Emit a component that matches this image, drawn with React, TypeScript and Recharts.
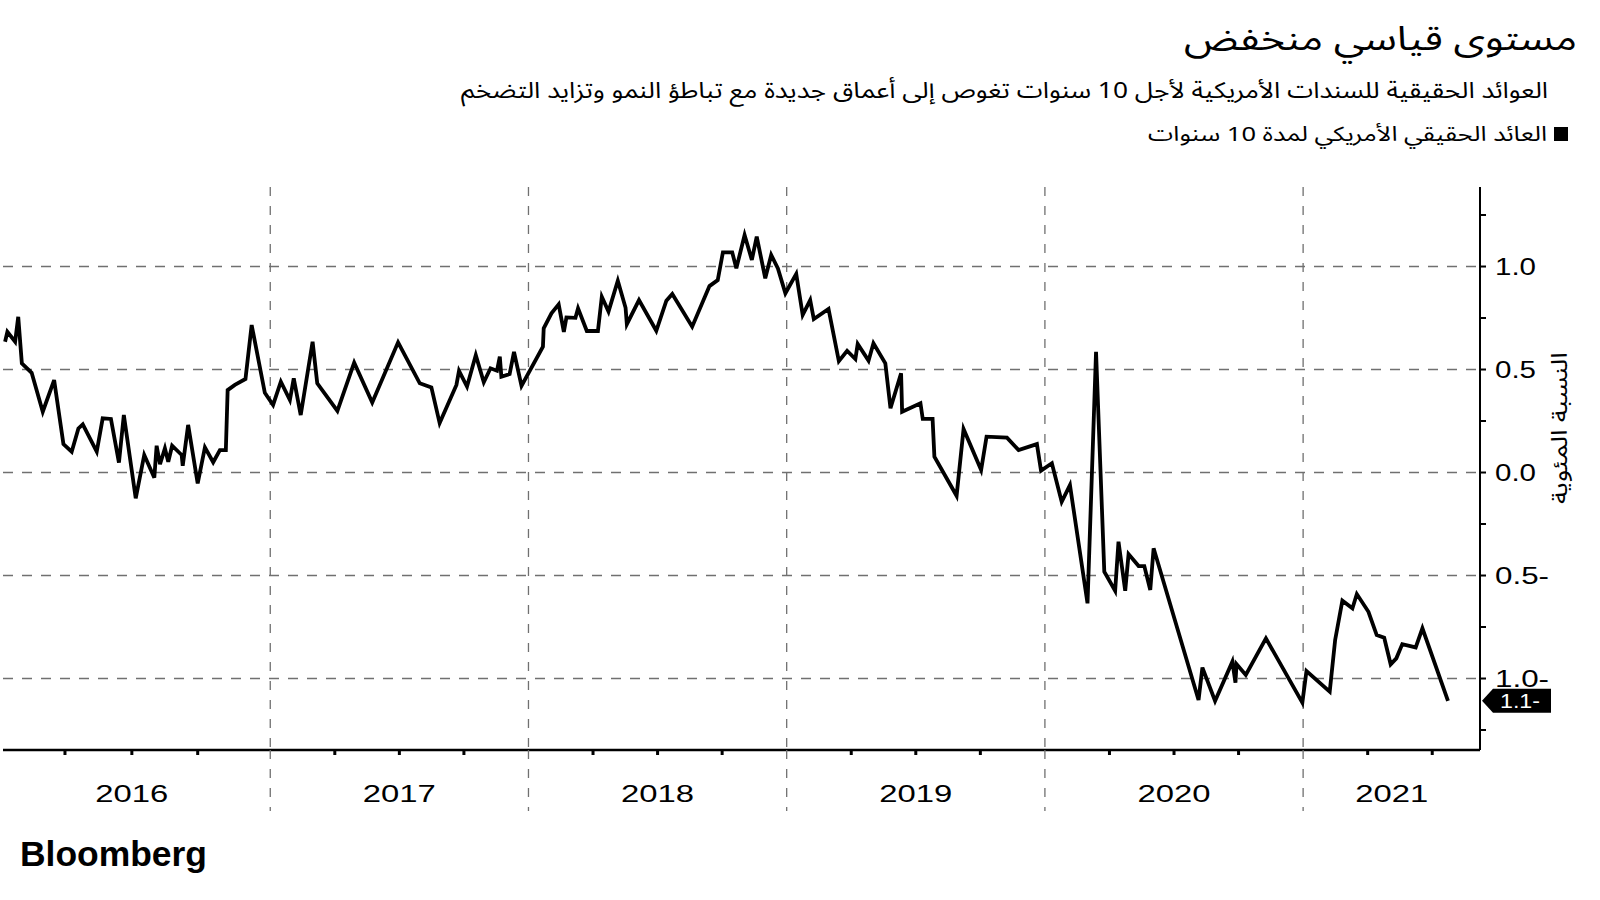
import React from 'react';
import { LineChart, Line, XAxis, YAxis, CartesianGrid, ReferenceDot } from 'recharts';

// ---- data (decimal years, percent) ----
const dates = [
  2015.973, 2015.982, 2016.012, 2016.024, 2016.038, 2016.076, 2016.119, 2016.163, 2016.199, 2016.231,
  2016.257, 2016.274, 2016.328, 2016.351, 2016.383, 2016.414, 2016.433, 2016.479, 2016.512, 2016.551,
  2016.560, 2016.573, 2016.592, 2016.605, 2016.620, 2016.657, 2016.661, 2016.682, 2016.719, 2016.747,
  2016.779, 2016.805, 2016.828, 2016.835, 2016.863, 2016.904, 2016.928, 2016.979, 2017.011, 2017.041,
  2017.076, 2017.091, 2017.118, 2017.164, 2017.182, 2017.260, 2017.325, 2017.395, 2017.495, 2017.579,
  2017.624, 2017.656, 2017.721, 2017.731, 2017.762, 2017.796, 2017.827, 2017.853, 2017.878, 2017.889,
  2017.895, 2017.927, 2017.944, 2017.973, 2018.056, 2018.059, 2018.089, 2018.117, 2018.137, 2018.147,
  2018.182, 2018.192, 2018.226, 2018.269, 2018.284, 2018.310, 2018.346, 2018.376, 2018.381, 2018.428,
  2018.495, 2018.534, 2018.557, 2018.634, 2018.701, 2018.733, 2018.753, 2018.789, 2018.805, 2018.837,
  2018.865, 2018.884, 2018.917, 2018.940, 2018.966, 2018.995, 2019.037, 2019.062, 2019.091, 2019.105,
  2019.162, 2019.202, 2019.234, 2019.266, 2019.275, 2019.317, 2019.336, 2019.382, 2019.402, 2019.443,
  2019.447, 2019.518, 2019.527, 2019.565, 2019.572, 2019.658, 2019.685, 2019.753, 2019.774, 2019.853,
  2019.898, 2019.969, 2019.985, 2020.027, 2020.065, 2020.097, 2020.165, 2020.198, 2020.230, 2020.272,
  2020.285, 2020.311, 2020.324, 2020.363, 2020.385, 2020.408, 2020.421, 2020.595, 2020.610, 2020.659,
  2020.726, 2020.738, 2020.742, 2020.778, 2020.856, 2020.997, 2021.013, 2021.103, 2021.124, 2021.152,
  2021.191, 2021.208, 2021.253, 2021.285, 2021.314, 2021.339, 2021.361, 2021.384, 2021.436, 2021.462,
  2021.561,
];

const realYield = [
  0.635, 0.683, 0.635, 0.756, 0.530, 0.484, 0.295, 0.449, 0.138, 0.101,
  0.214, 0.234, 0.101, 0.263, 0.260, 0.048, 0.279, -0.125, 0.085, -0.025,
  0.130, 0.040, 0.117, 0.052, 0.130, 0.085, 0.033, 0.231, -0.053, 0.122,
  0.050, 0.109, 0.109, 0.400, 0.425, 0.454, 0.716, 0.387, 0.328, 0.441,
  0.352, 0.457, 0.279, 0.635, 0.433, 0.299, 0.533, 0.340, 0.632, 0.433,
  0.413, 0.240, 0.425, 0.493, 0.417, 0.570, 0.438, 0.506, 0.494, 0.562,
  0.465, 0.478, 0.586, 0.421, 0.611, 0.700, 0.773, 0.816, 0.683, 0.753,
  0.751, 0.797, 0.687, 0.687, 0.853, 0.781, 0.931, 0.800, 0.720, 0.837,
  0.688, 0.834, 0.867, 0.708, 0.905, 0.934, 1.069, 1.069, 0.991, 1.153,
  1.032, 1.145, 0.943, 1.056, 0.991, 0.870, 0.964, 0.765, 0.837, 0.745,
  0.794, 0.541, 0.591, 0.551, 0.624, 0.543, 0.627, 0.530, 0.312, 0.482,
  0.295, 0.336, 0.260, 0.260, 0.077, -0.113, 0.211, 0.012, 0.174, 0.169,
  0.109, 0.138, 0.009, 0.045, -0.142, -0.061, -0.635, 0.586, -0.481, -0.574,
  -0.336, -0.574, -0.396, -0.454, -0.454, -0.570, -0.368, -1.104, -0.947, -1.109,
  -0.918, -1.020, -0.930, -0.983, -0.805, -1.117, -0.964, -1.064, -0.813, -0.622,
  -0.659, -0.590, -0.676, -0.789, -0.802, -0.931, -0.902, -0.833, -0.849, -0.756,
  -1.108,
];

// ---- axis ticks / labels ----
const yearLines = [2017, 2018, 2019, 2020, 2021];
const quarterTicks = [
  2016.205, 2016.464, 2016.719,
  2017.25, 2017.5, 2017.75,
  2018.25, 2018.5, 2018.75,
  2019.25, 2019.5, 2019.75,
  2020.25, 2020.5, 2020.75,
  2021.25, 2021.5,
];
const yearLabelPositions = [2016.464, 2017.5, 2018.5, 2019.5, 2020.5, 2021.343];
const yearLabels = ['2016', '2017', '2018', '2019', '2020', '2021'];

const yTicks = [-1.25, -1, -0.75, -0.5, -0.25, 0, 0.25, 0.5, 0.75, 1, 1.25];
const yLabelValues = [-1, -0.5, 0, 0.5, 1];
const yLabelTexts = ['1.0-', '0.5-', '0.0', '0.5', '1.0'];

const titleText = 'مستوى قياسي منخفض';
const subtitleText = 'العوائد الحقيقية للسندات الأمريكية لأجل 10 سنوات تغوص إلى أعماق جديدة مع تباطؤ النمو وتزايد التضخم';
const legendText = 'العائد الحقيقي الأمريكي لمدة 10 سنوات';
const yAxisTitle = 'النسبة المئوية';
const endLabelText = '1.1-';
const sourceText = 'Bloomberg';

const X_DOMAIN: [number, number] = [2015.965, 2021.685];
const Y_DOMAIN: [number, number] = [-1.347, 1.386];

const NUM_FONT = "'Liberation Sans', Arial, Helvetica, sans-serif";
const AR_FONT = "'Noto Sans Arabic', 'DejaVu Sans', sans-serif";
const GRID = '#707070';

const data = dates.map((t, i) => ({ t, v: realYield[i] }));
const xTicks = Array.from(new Set([...quarterTicks, ...yearLines, ...yearLabelPositions])).sort((a, b) => a - b);

const XTick = (props: any) => {
  const { x, y, payload } = props;
  const v = payload.value;
  const li = yearLabelPositions.indexOf(v);
  return (
    <g>
      {yearLines.includes(v) && (
        <line x1={x} x2={x} y1={y} y2={y + 61} stroke={GRID} strokeWidth={1.3} strokeDasharray="9 10" />
      )}
      {quarterTicks.includes(v) && <rect x={x - 1.5} y={y} width={3} height={5} fill="#000" />}
      {li >= 0 && (
        <text
          x={x}
          y={y + 52}
          textAnchor="middle"
          fontFamily={NUM_FONT}
          fontSize={24}
          fill="#000"
          textLength={73}
          lengthAdjust="spacingAndGlyphs"
        >
          {yearLabels[li]}
        </text>
      )}
    </g>
  );
};

const YTick = (props: any) => {
  const { x, y, payload } = props;
  const i = yLabelValues.indexOf(payload.value);
  const txt = i >= 0 ? yLabelTexts[i] : '';
  return (
    <g>
      <line x1={x} x2={x + 6} y1={y} y2={y} stroke="#000" strokeWidth={2} />
      {i >= 0 && (
        <text
          x={x + 15}
          y={y + 8.5}
          textAnchor="start"
          fontFamily={NUM_FONT}
          fontSize={23.5}
          fill="#000"
          textLength={txt.length > 3 ? 54 : 41}
          lengthAdjust="spacingAndGlyphs"
        >
          {txt}
        </text>
      )}
    </g>
  );
};

const EndFlag = (props: any) => {
  const { cx, cy } = props;
  const x0 = cx + 2;
  const h = 12;
  return (
    <g>
      <polygon
        points={`${x0},${cy} ${x0 + 11},${cy - h} ${x0 + 69},${cy - h} ${x0 + 69},${cy + h} ${x0 + 11},${cy + h}`}
        fill="#000"
      />
      <text
        x={x0 + 38}
        y={cy + 7.5}
        textAnchor="middle"
        fontFamily={NUM_FONT}
        fontSize={21}
        fill="#fff"
        textLength={40}
        lengthAdjust="spacingAndGlyphs"
      >
        {endLabelText}
      </text>
    </g>
  );
};

export default function App() {
  const last = realYield[realYield.length - 1];
  return (
    <div style={{ position: 'absolute', left: 0, top: 0, width: 1600, height: 900, background: '#fff' }}>
      <div style={{ position: 'absolute', left: 0, top: 0 }}>
        <LineChart width={1600} height={900} data={data} margin={{ top: 187, right: 40, bottom: 90, left: 3 }}>
          <CartesianGrid
            vertical={false}
            horizontalValues={yLabelValues}
            stroke={GRID}
            strokeWidth={1.3}
            strokeDasharray="10 9"
          />
          <CartesianGrid
            horizontal={false}
            verticalValues={yearLines}
            stroke={GRID}
            strokeWidth={1.3}
            strokeDasharray="9 10"
          />
          <XAxis
            dataKey="t"
            type="number"
            domain={X_DOMAIN}
            allowDataOverflow
            ticks={xTicks}
            interval={0}
            height={60}
            tickSize={0}
            tickMargin={0}
            tickLine={false}
            axisLine={{ stroke: '#000', strokeWidth: 2.5 }}
            tick={<XTick />}
          />
          <YAxis
            type="number"
            orientation="right"
            domain={Y_DOMAIN}
            allowDataOverflow
            ticks={yTicks}
            interval={0}
            width={80}
            tickSize={0}
            tickMargin={0}
            tickLine={false}
            axisLine={{ stroke: '#000', strokeWidth: 2 }}
            tick={<YTick />}
          />
          <Line
            dataKey="v"
            type="linear"
            stroke="#000"
            strokeWidth={3.8}
            dot={false}
            activeDot={false}
            isAnimationActive={false}
          />
          <ReferenceDot x={X_DOMAIN[1]} y={last} r={0} ifOverflow="visible" shape={<EndFlag />} />
        </LineChart>
      </div>
      <svg width={1600} height={900} style={{ position: 'absolute', left: 0, top: 0, pointerEvents: 'none' }}>
        <text
          x={1577}
          y={50}
          textAnchor="end"
          fontFamily={AR_FONT}
          fontSize={34}
          fill="#000"
          textLength={393}
          lengthAdjust="spacingAndGlyphs"
        >
          {titleText}
        </text>
        <text
          x={1548}
          y={97.5}
          textAnchor="end"
          fontFamily={AR_FONT}
          fontSize={22.5}
          fill="#000"
          textLength={1087}
          lengthAdjust="spacingAndGlyphs"
        >
          {subtitleText}
        </text>
        <rect x={1554} y={127} width={14} height={14} fill="#000" />
        <text
          x={1547}
          y={140.5}
          textAnchor="end"
          fontFamily={AR_FONT}
          fontSize={20.5}
          fill="#000"
          textLength={399}
          lengthAdjust="spacingAndGlyphs"
        >
          {legendText}
        </text>
        <text
          x={1560}
          y={428}
          transform="rotate(-90 1560 428)"
          textAnchor="middle"
          dominantBaseline="central"
          fontFamily={AR_FONT}
          fontSize={22}
          fill="#000"
          textLength={152}
          lengthAdjust="spacingAndGlyphs"
        >
          {yAxisTitle}
        </text>
        <text
          x={20}
          y={866}
          fontFamily={NUM_FONT}
          fontWeight="bold"
          fontSize={35}
          fill="#000"
          textLength={187}
          lengthAdjust="spacingAndGlyphs"
        >
          {sourceText}
        </text>
      </svg>
    </div>
  );
}
